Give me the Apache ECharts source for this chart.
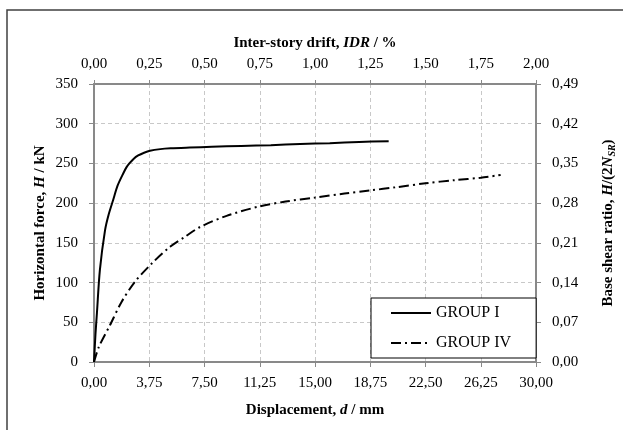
<!DOCTYPE html>
<html>
<head>
<meta charset="utf-8">
<script src="https://cdn.jsdelivr.net/npm/echarts@6/dist/echarts.min.js"></script>
<style>
html,body{margin:0;padding:0;background:#fff;}
#c{width:623px;height:430px;}
</style>
</head>
<body>
<div id="c"></div>
<script>
// Data
const seriesNames = ['GROUP I', 'GROUP IV'];
const groupI_d = [0, 0.1, 0.2, 0.4, 0.75, 1.0, 1.3, 1.6, 2.0, 2.2, 2.4, 2.7, 3.0, 3.4, 3.8, 4.5, 5.2, 6.5, 8.0, 10.0, 12.0, 14.0, 16.0, 18.0, 20.0];
const groupI_H = [0, 35, 62, 116, 166, 186, 204, 222, 238, 245, 250, 256, 260, 263.5, 266, 268, 269, 270, 271, 272, 273, 274.5, 275.5, 277, 278];
const groupIV_d = [0, 0.33, 1.09, 1.88, 2.78, 3.92, 5.16, 6.2, 7.2, 9.0, 11.25, 13.0, 15.0, 17.0, 18.75, 20.5, 22.5, 24.5, 26.25, 27.6];
const groupIV_H = [0, 19, 46.6, 76, 101, 124, 145, 158, 170, 184, 196, 202, 207, 212, 216, 220, 225, 229, 232, 235.5];

// Axis ranges / tick steps
const dispMin = 0, dispMax = 30, dispStep = 3.75;
const forceMin = 0, forceMax = 350, forceStep = 50;
const idrMin = 0, idrMax = 2, idrStep = 0.25;
const ratioMin = 0, ratioMax = 0.49, ratioStep = 0.07;

const FONT = 'Liberation Serif';
const AX = '#898989';
const comma2 = v => Number(v).toFixed(2).replace('.', ',');

const richName = {
  b: {fontFamily: FONT, fontSize: 15, fontWeight: 'bold', color: '#000'},
  bi: {fontFamily: FONT, fontSize: 15, fontWeight: 'bold', fontStyle: 'italic', color: '#000'},
  sub: {fontFamily: FONT, fontSize: 10, fontWeight: 'bold', fontStyle: 'italic', color: '#000', verticalAlign: 'bottom', padding: [7, 0, 0, 0]}
};

const labelStyle = {fontFamily: FONT, fontSize: 15, color: '#000'};

const chart = echarts.init(document.getElementById('c'), null, {renderer: 'canvas'});
chart.setOption({
  backgroundColor: '#fff',
  animation: false,
  grid: {left: 94, right: 87, top: 84, bottom: 68, containLabel: false, outerBoundsMode: 'none'},
  graphic: [{
    type: 'rect', z: -10, silent: true,
    shape: {x: 7, y: 10, width: 1000, height: 1000},
    style: {fill: 'none', stroke: '#404040', lineWidth: 1.5}
  }],
  legend: {
    left: 371, top: 298,
    orient: 'vertical',
    data: seriesNames,
    itemWidth: 40, itemHeight: 14, itemGap: 14,
    padding: [7, 25, 7, 19],
    borderColor: '#000', borderWidth: 1, borderRadius: 0,
    backgroundColor: '#fff',
    itemStyle: {opacity: 0},
    textStyle: {fontFamily: FONT, fontSize: 16, color: '#000'}
  },
  xAxis: [{
    type: 'value', position: 'bottom',
    min: dispMin, max: dispMax, interval: dispStep,
    name: '{b|Displacement, }{bi|d}{b| / mm}',
    nameLocation: 'middle', nameGap: 41,
    nameTextStyle: {rich: richName},
    axisLine: {show: true, onZero: false, lineStyle: {color: AX, width: 2}},
    axisTick: {show: true, inside: false, length: 5, lineStyle: {color: AX, width: 1}},
    axisLabel: Object.assign({margin: 14, formatter: comma2}, labelStyle),
    splitLine: {show: true, lineStyle: {color: '#c8c8c8', type: [4, 3], width: 1}}
  }, {
    type: 'value', position: 'top',
    min: idrMin, max: idrMax, interval: idrStep,
    name: '{b|Inter-story drift, }{bi|IDR}{b| / %}',
    nameLocation: 'middle', nameGap: 33,
    nameTextStyle: {rich: richName},
    axisLine: {show: true, onZero: false, lineStyle: {color: AX, width: 2}},
    axisTick: {show: true, inside: false, length: 4, lineStyle: {color: AX, width: 1}},
    axisLabel: Object.assign({margin: 12, formatter: comma2}, labelStyle),
    splitLine: {show: false}
  }],
  yAxis: [{
    type: 'value', position: 'left',
    min: forceMin, max: forceMax, interval: forceStep,
    name: '{b|Horizontal force, }{bi|H}{b| / kN}',
    nameLocation: 'middle', nameGap: 46, nameRotate: 90, nameMoveOverlap: false,
    nameTextStyle: {rich: richName},
    axisLine: {show: true, onZero: false, lineStyle: {color: AX, width: 2}},
    axisTick: {show: true, inside: false, length: 5, lineStyle: {color: AX, width: 1}},
    axisLabel: Object.assign({margin: 16}, labelStyle),
    splitLine: {show: true, lineStyle: {color: '#c8c8c8', type: [4, 3], width: 1}}
  }, {
    type: 'value', position: 'right',
    min: ratioMin, max: ratioMax, interval: ratioStep,
    name: '{b|Base shear ratio, }{bi|H}{b|/(2}{bi|N}{sub|SR}{b|)}',
    nameLocation: 'middle', nameGap: 64, nameRotate: 90,
    nameTextStyle: {rich: richName},
    axisLine: {show: true, onZero: false, lineStyle: {color: AX, width: 2}},
    axisTick: {show: true, inside: false, length: 5, lineStyle: {color: AX, width: 1}},
    axisLabel: Object.assign({margin: 16, formatter: comma2}, labelStyle),
    splitLine: {show: false}
  }],
  series: [{
    name: seriesNames[0], type: 'line', xAxisIndex: 0, yAxisIndex: 0,
    data: groupI_d.map((d, i) => [d, groupI_H[i]]),
    symbol: 'none', smooth: 0.3,
    lineStyle: {color: '#000', width: 2, type: 'solid'},
    itemStyle: {color: '#000'}
  }, {
    name: seriesNames[1], type: 'line', xAxisIndex: 0, yAxisIndex: 0,
    data: groupIV_d.map((d, i) => [d, groupIV_H[i]]),
    symbol: 'none', smooth: 0.3,
    lineStyle: {color: '#000', width: 2, type: [10, 4, 2, 4]},
    itemStyle: {color: '#000'}
  }]
});
</script>
</body>
</html>
